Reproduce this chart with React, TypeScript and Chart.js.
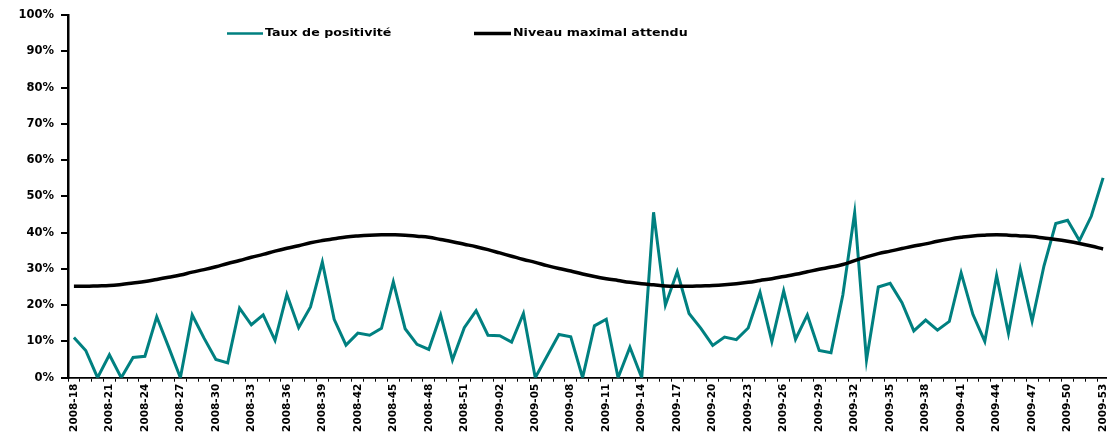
import React, { useEffect, useRef } from 'react';
import { Chart, registerables } from 'chart.js';

Chart.register(...registerables);

const weeks = [
  '2008-18', '2008-19', '2008-20', '2008-21', '2008-22', '2008-23', '2008-24', '2008-25', '2008-26', '2008-27',
  '2008-28', '2008-29', '2008-30', '2008-31', '2008-32', '2008-33', '2008-34', '2008-35', '2008-36', '2008-37',
  '2008-38', '2008-39', '2008-40', '2008-41', '2008-42', '2008-43', '2008-44', '2008-45', '2008-46', '2008-47',
  '2008-48', '2008-49', '2008-50', '2008-51', '2008-52',
  '2009-01', '2009-02', '2009-03', '2009-04', '2009-05', '2009-06', '2009-07', '2009-08', '2009-09', '2009-10',
  '2009-11', '2009-12', '2009-13', '2009-14', '2009-15', '2009-16', '2009-17', '2009-18', '2009-19', '2009-20',
  '2009-21', '2009-22', '2009-23', '2009-24', '2009-25', '2009-26', '2009-27', '2009-28', '2009-29', '2009-30',
  '2009-31', '2009-32', '2009-33', '2009-34', '2009-35', '2009-36', '2009-37', '2009-38', '2009-39', '2009-40',
  '2009-41', '2009-42', '2009-43', '2009-44', '2009-45', '2009-46', '2009-47', '2009-48', '2009-49', '2009-50',
  '2009-51', '2009-52', '2009-53',
];

const positivityRate = [
  11.1, 7.5, 0, 6.3, 0, 5.6, 5.9, 16.8, 8.5, 0,
  17.3, 10.9, 5.0, 4.1, 19.2, 14.6, 17.3, 10.3, 23.0, 13.8,
  19.5, 31.9, 16.1, 9.0, 12.3, 11.7, 13.6, 26.4, 13.5, 9.2,
  7.8, 17.3, 4.9, 13.8, 18.5,
  11.7, 11.6, 9.8, 17.7, 0, 6.0, 11.9, 11.3, 0, 14.3,
  16.1, 0, 8.4, 0, 45.6, 20.0, 29.2, 17.7, 13.6, 8.9,
  11.2, 10.5, 13.7, 23.5, 10.0, 23.9, 10.6, 17.3, 7.5, 6.9,
  22.8, 45.5, 4.9, 25.0, 26.0, 20.7, 12.9, 15.9, 13.1, 15.5,
  28.9, 17.4, 10.0, 28.2, 12.2, 30.0, 15.6, 30.8, 42.5, 43.4,
  37.8, 44.5, 55.1,
];

const expectedMax = [
  25.2, 25.2, 25.3, 25.4, 25.7, 26.1, 26.5, 27.1, 27.7, 28.3,
  29.1, 29.8, 30.6, 31.5, 32.3, 33.2, 34.0, 34.9, 35.7, 36.4,
  37.2, 37.8, 38.3, 38.8, 39.1, 39.3, 39.4, 39.4, 39.3, 39.0,
  38.7, 38.1, 37.5, 36.8, 36.1,
  35.3, 34.4, 33.5, 32.6, 31.8, 30.9, 30.1, 29.4, 28.6, 27.9,
  27.3, 26.8, 26.3, 25.9, 25.6, 25.3, 25.2, 25.2, 25.3, 25.4,
  25.6, 25.9, 26.3, 26.8, 27.3, 27.9, 28.5, 29.2, 29.9, 30.5,
  31.2, 32.3, 33.3, 34.2, 34.9, 35.6, 36.3, 36.9, 37.6, 38.2,
  38.7, 39.1, 39.3, 39.4, 39.3, 39.1, 38.9, 38.5, 38.1, 37.6,
  37.0, 36.3, 35.5,
];

const seriesLabels = ['Taux de positivité', 'Niveau maximal attendu'];
const seriesColors = ['#008080', '#000000'];
const labelStep = 3;

const legendPlugin = {
  id: 'topLegend',
  afterDraw(chart: any) {
    const ctx = chart.ctx as CanvasRenderingContext2D;
    const spots = [
      { x: 227, w: 36, lw: 2.5 },
      { x: 474, w: 37, lw: 3.5 },
    ];
    const y = 33.5;
    chart.data.datasets.forEach((ds: any, i: number) => {
      const s = spots[i];
      ctx.save();
      ctx.strokeStyle = ds.borderColor;
      ctx.lineWidth = s.lw;
      ctx.beginPath();
      ctx.moveTo(s.x, y);
      ctx.lineTo(s.x + s.w, y);
      ctx.stroke();
      ctx.translate(s.x + s.w + 2, y);
      ctx.scale(1.15, 1);
      ctx.font = 'bold 11px "DejaVu Sans"';
      ctx.fillStyle = '#000';
      ctx.textBaseline = 'middle';
      ctx.textAlign = 'left';
      ctx.fillText(ds.label, 0, 0);
      ctx.restore();
    });
  },
};

export default function App() {
  const canvasRef = useRef<HTMLCanvasElement | null>(null);

  useEffect(() => {
    if (!canvasRef.current) return;
    const chart = new Chart(canvasRef.current, {
      type: 'line',
      data: {
        labels: weeks,
        datasets: [
          {
            label: seriesLabels[0],
            data: positivityRate,
            borderColor: seriesColors[0],
            backgroundColor: seriesColors[0],
            borderWidth: 3,
            pointRadius: 0,
            tension: 0,
            order: 2,
          },
          {
            label: seriesLabels[1],
            data: expectedMax,
            borderColor: seriesColors[1],
            backgroundColor: seriesColors[1],
            borderWidth: 3.5,
            pointRadius: 0,
            tension: 0.4,
            order: 1,
          },
        ],
      },
      options: {
        responsive: false,
        animation: false,
        devicePixelRatio: 1,
        layout: { padding: { top: 15, right: 3, left: 0, bottom: 0 } },
        plugins: {
          legend: { display: false },
          tooltip: { enabled: false },
        },
        scales: {
          x: {
            type: 'category',
            offset: true,
            grid: {
              offset: true,
              drawOnChartArea: false,
              drawTicks: true,
              tickLength: 4,
              color: '#000',
              lineWidth: 1,
            },
            border: { display: true, color: '#000', width: 1.7 },
            ticks: {
              autoSkip: false,
              maxRotation: 90,
              minRotation: 90,
              padding: 2,
              color: '#000',
              font: { family: 'DejaVu Sans', weight: 'bold', size: 10.5 },
              callback: (_v: any, i: number) => (i % labelStep === 0 ? weeks[i] : ''),
            },
            afterFit: (s: any) => {
              s.height = 56.3;
              s.paddingLeft = 0;
              s.paddingRight = 0;
            },
          },
          y: {
            min: 0,
            max: 100,
            grid: {
              drawOnChartArea: false,
              drawTicks: true,
              tickLength: 7,
              color: '#000',
              lineWidth: 2,
            },
            border: { display: true, color: '#000', width: 2.5 },
            ticks: {
              stepSize: 10,
              padding: 7,
              color: '#000',
              font: { family: 'DejaVu Sans', weight: 'bold', size: 11.5 },
              callback: (v: any) => `${v}%`,
            },
            afterFit: (s: any) => {
              s.width = 68;
              s.paddingTop = 0;
              s.paddingBottom = 0;
            },
          },
        },
      },
      plugins: [legendPlugin],
    });
    return () => chart.destroy();
  }, []);

  return (
    <div
      style={{
        position: 'fixed',
        left: 0,
        top: 0,
        width: 1107,
        height: 434,
        overflow: 'hidden',
        background: '#fff',
      }}
    >
      <canvas ref={canvasRef} width={1112} height={434} style={{ display: 'block' }} />
    </div>
  );
}
